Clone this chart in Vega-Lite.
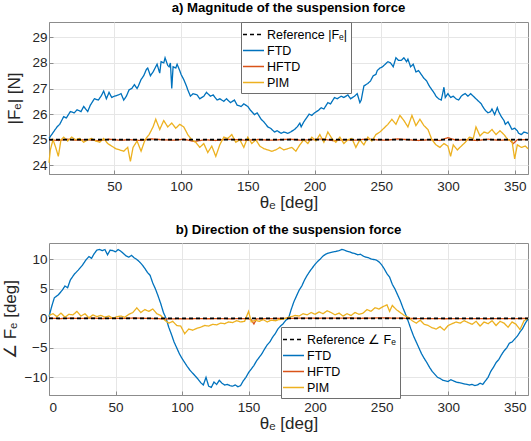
{
"$schema": "https://vega.github.io/schema/vega-lite/v6.json",
"padding": {"left": 0, "top": 0, "right": 0, "bottom": 0},
"background": "white",
"spacing": 11,
"datasets": {
"top": [
{"t":1,"s":"FTD","v":25.05},{"t":3,"s":"FTD","v":25.2},{"t":5,"s":"FTD","v":25.35},{"t":7,"s":"FTD","v":25.5},{"t":9,"s":"FTD","v":25.6},{"t":12,"s":"FTD","v":25.9},{"t":14,"s":"FTD","v":25.85},{"t":17,"s":"FTD","v":26.1},{"t":20,"s":"FTD","v":26.05},{"t":22,"s":"FTD","v":26.17},{"t":25,"s":"FTD","v":26.1},{"t":27,"s":"FTD","v":26.3},{"t":30,"s":"FTD","v":26.1},{"t":32,"s":"FTD","v":26.35},{"t":35,"s":"FTD","v":26.6},{"t":38,"s":"FTD","v":26.55},{"t":40,"s":"FTD","v":26.7},{"t":42,"s":"FTD","v":26.9},{"t":44,"s":"FTD","v":26.6},{"t":46,"s":"FTD","v":26.85},{"t":48,"s":"FTD","v":26.65},{"t":50,"s":"FTD","v":26.7},{"t":53,"s":"FTD","v":26.75},{"t":55,"s":"FTD","v":26.8},{"t":57,"s":"FTD","v":26.55},{"t":59,"s":"FTD","v":26.7},{"t":61,"s":"FTD","v":26.95},{"t":63,"s":"FTD","v":27.0},{"t":65,"s":"FTD","v":27.15},{"t":67,"s":"FTD","v":27.0},{"t":68,"s":"FTD","v":27.1},{"t":70,"s":"FTD","v":27.35},{"t":72,"s":"FTD","v":27.5},{"t":74,"s":"FTD","v":27.75},{"t":75,"s":"FTD","v":27.8},{"t":77,"s":"FTD","v":27.5},{"t":79,"s":"FTD","v":27.65},{"t":80,"s":"FTD","v":27.75},{"t":82,"s":"FTD","v":27.95},{"t":84,"s":"FTD","v":27.6},{"t":85,"s":"FTD","v":28.05},{"t":87,"s":"FTD","v":28.0},{"t":88,"s":"FTD","v":28.2},{"t":90,"s":"FTD","v":27.9},{"t":91,"s":"FTD","v":27.85},{"t":92,"s":"FTD","v":28.0},{"t":93,"s":"FTD","v":27.0},{"t":94,"s":"FTD","v":27.85},{"t":96,"s":"FTD","v":27.8},{"t":97,"s":"FTD","v":27.95},{"t":99,"s":"FTD","v":27.7},{"t":100,"s":"FTD","v":27.55},{"t":102,"s":"FTD","v":27.35},{"t":104,"s":"FTD","v":27.1},{"t":105,"s":"FTD","v":26.95},{"t":107,"s":"FTD","v":26.7},{"t":109,"s":"FTD","v":26.8},{"t":112,"s":"FTD","v":26.75},{"t":114,"s":"FTD","v":26.6},{"t":117,"s":"FTD","v":26.7},{"t":119,"s":"FTD","v":26.85},{"t":122,"s":"FTD","v":26.7},{"t":124,"s":"FTD","v":26.75},{"t":127,"s":"FTD","v":26.55},{"t":129,"s":"FTD","v":26.6},{"t":132,"s":"FTD","v":26.5},{"t":134,"s":"FTD","v":26.6},{"t":137,"s":"FTD","v":26.45},{"t":140,"s":"FTD","v":26.55},{"t":142,"s":"FTD","v":26.35},{"t":145,"s":"FTD","v":26.3},{"t":147,"s":"FTD","v":26.4},{"t":150,"s":"FTD","v":26.3},{"t":152,"s":"FTD","v":26.15},{"t":155,"s":"FTD","v":25.98},{"t":157,"s":"FTD","v":26.05},{"t":160,"s":"FTD","v":25.8},{"t":162,"s":"FTD","v":25.7},{"t":165,"s":"FTD","v":25.5},{"t":167,"s":"FTD","v":25.45},{"t":170,"s":"FTD","v":25.3},{"t":172,"s":"FTD","v":25.35},{"t":175,"s":"FTD","v":25.25},{"t":177,"s":"FTD","v":25.3},{"t":180,"s":"FTD","v":25.25},{"t":182,"s":"FTD","v":25.3},{"t":185,"s":"FTD","v":25.4},{"t":187,"s":"FTD","v":25.5},{"t":189,"s":"FTD","v":25.65},{"t":190,"s":"FTD","v":25.5},{"t":192,"s":"FTD","v":25.7},{"t":194,"s":"FTD","v":25.85},{"t":196,"s":"FTD","v":26.0},{"t":198,"s":"FTD","v":25.95},{"t":200,"s":"FTD","v":26.05},{"t":203,"s":"FTD","v":26.15},{"t":205,"s":"FTD","v":26.25},{"t":207,"s":"FTD","v":26.2},{"t":210,"s":"FTD","v":26.45},{"t":212,"s":"FTD","v":26.4},{"t":215,"s":"FTD","v":26.65},{"t":217,"s":"FTD","v":26.6},{"t":220,"s":"FTD","v":26.7},{"t":222,"s":"FTD","v":26.65},{"t":225,"s":"FTD","v":26.75},{"t":227,"s":"FTD","v":26.6},{"t":230,"s":"FTD","v":26.7},{"t":232,"s":"FTD","v":26.8},{"t":234,"s":"FTD","v":26.45},{"t":235,"s":"FTD","v":26.55},{"t":237,"s":"FTD","v":27.1},{"t":240,"s":"FTD","v":27.2},{"t":242,"s":"FTD","v":27.3},{"t":244,"s":"FTD","v":27.5},{"t":246,"s":"FTD","v":27.55},{"t":247,"s":"FTD","v":27.7},{"t":249,"s":"FTD","v":27.8},{"t":251,"s":"FTD","v":27.85},{"t":253,"s":"FTD","v":27.95},{"t":255,"s":"FTD","v":28.05},{"t":257,"s":"FTD","v":28.0},{"t":259,"s":"FTD","v":27.85},{"t":261,"s":"FTD","v":28.2},{"t":263,"s":"FTD","v":28.1},{"t":265,"s":"FTD","v":28.1},{"t":267,"s":"FTD","v":28.2},{"t":269,"s":"FTD","v":28.05},{"t":270,"s":"FTD","v":28.15},{"t":272,"s":"FTD","v":27.85},{"t":274,"s":"FTD","v":27.95},{"t":276,"s":"FTD","v":27.65},{"t":278,"s":"FTD","v":27.7},{"t":280,"s":"FTD","v":27.55},{"t":282,"s":"FTD","v":27.4},{"t":284,"s":"FTD","v":27.3},{"t":286,"s":"FTD","v":27.1},{"t":288,"s":"FTD","v":26.95},{"t":290,"s":"FTD","v":26.8},{"t":291,"s":"FTD","v":26.7},{"t":293,"s":"FTD","v":26.6},{"t":295,"s":"FTD","v":26.55},{"t":297,"s":"FTD","v":27.05},{"t":298,"s":"FTD","v":26.65},{"t":300,"s":"FTD","v":26.8},{"t":302,"s":"FTD","v":26.65},{"t":304,"s":"FTD","v":26.7},{"t":306,"s":"FTD","v":26.6},{"t":308,"s":"FTD","v":26.55},{"t":310,"s":"FTD","v":26.7},{"t":311,"s":"FTD","v":26.75},{"t":313,"s":"FTD","v":26.8},{"t":315,"s":"FTD","v":26.7},{"t":317,"s":"FTD","v":26.8},{"t":319,"s":"FTD","v":26.7},{"t":321,"s":"FTD","v":26.6},{"t":323,"s":"FTD","v":26.5},{"t":325,"s":"FTD","v":26.4},{"t":326,"s":"FTD","v":26.3},{"t":328,"s":"FTD","v":26.15},{"t":330,"s":"FTD","v":26.05},{"t":332,"s":"FTD","v":26.1},{"t":333,"s":"FTD","v":26.2},{"t":335,"s":"FTD","v":25.98},{"t":337,"s":"FTD","v":26.25},{"t":338,"s":"FTD","v":26.1},{"t":340,"s":"FTD","v":25.9},{"t":342,"s":"FTD","v":25.75},{"t":343,"s":"FTD","v":25.6},{"t":345,"s":"FTD","v":25.7},{"t":347,"s":"FTD","v":25.5},{"t":348,"s":"FTD","v":25.4},{"t":350,"s":"FTD","v":25.45},{"t":352,"s":"FTD","v":25.35},{"t":353,"s":"FTD","v":25.25},{"t":355,"s":"FTD","v":25.2},{"t":357,"s":"FTD","v":25.3},{"t":360,"s":"FTD","v":25.25},
{"t":1,"s":"HFTD","v":25.0},{"t":8,"s":"HFTD","v":24.97},{"t":15,"s":"HFTD","v":25.02},{"t":22,"s":"HFTD","v":24.98},{"t":30,"s":"HFTD","v":25.0},{"t":38,"s":"HFTD","v":24.96},{"t":46,"s":"HFTD","v":25.02},{"t":54,"s":"HFTD","v":24.98},{"t":62,"s":"HFTD","v":25.0},{"t":70,"s":"HFTD","v":24.97},{"t":78,"s":"HFTD","v":25.03},{"t":86,"s":"HFTD","v":25.0},{"t":94,"s":"HFTD","v":24.98},{"t":102,"s":"HFTD","v":25.02},{"t":110,"s":"HFTD","v":24.93},{"t":118,"s":"HFTD","v":25.0},{"t":126,"s":"HFTD","v":24.97},{"t":134,"s":"HFTD","v":25.02},{"t":142,"s":"HFTD","v":25.0},{"t":150,"s":"HFTD","v":24.98},{"t":158,"s":"HFTD","v":25.01},{"t":166,"s":"HFTD","v":24.98},{"t":174,"s":"HFTD","v":25.0},{"t":182,"s":"HFTD","v":25.02},{"t":190,"s":"HFTD","v":24.98},{"t":198,"s":"HFTD","v":25.0},{"t":206,"s":"HFTD","v":25.03},{"t":214,"s":"HFTD","v":24.96},{"t":222,"s":"HFTD","v":25.0},{"t":230,"s":"HFTD","v":24.98},{"t":238,"s":"HFTD","v":25.02},{"t":246,"s":"HFTD","v":25.0},{"t":254,"s":"HFTD","v":24.98},{"t":262,"s":"HFTD","v":25.03},{"t":270,"s":"HFTD","v":25.0},{"t":278,"s":"HFTD","v":24.97},{"t":286,"s":"HFTD","v":25.0},{"t":294,"s":"HFTD","v":24.97},{"t":300,"s":"HFTD","v":25.08},{"t":306,"s":"HFTD","v":24.98},{"t":314,"s":"HFTD","v":25.0},{"t":322,"s":"HFTD","v":24.97},{"t":330,"s":"HFTD","v":25.02},{"t":338,"s":"HFTD","v":24.98},{"t":346,"s":"HFTD","v":25.0},{"t":349,"s":"HFTD","v":24.85},{"t":352,"s":"HFTD","v":25.0},{"t":360,"s":"HFTD","v":25.0},
{"t":1,"s":"PIM","v":24.1},{"t":2,"s":"PIM","v":24.6},{"t":4,"s":"PIM","v":25.0},{"t":6,"s":"PIM","v":24.7},{"t":8,"s":"PIM","v":24.35},{"t":10,"s":"PIM","v":25.0},{"t":12,"s":"PIM","v":25.1},{"t":15,"s":"PIM","v":24.95},{"t":18,"s":"PIM","v":25.1},{"t":21,"s":"PIM","v":25.0},{"t":24,"s":"PIM","v":25.05},{"t":27,"s":"PIM","v":24.9},{"t":30,"s":"PIM","v":25.0},{"t":33,"s":"PIM","v":25.05},{"t":36,"s":"PIM","v":24.95},{"t":39,"s":"PIM","v":24.9},{"t":42,"s":"PIM","v":25.05},{"t":45,"s":"PIM","v":24.85},{"t":48,"s":"PIM","v":24.75},{"t":51,"s":"PIM","v":24.65},{"t":54,"s":"PIM","v":24.6},{"t":57,"s":"PIM","v":24.55},{"t":60,"s":"PIM","v":24.7},{"t":62,"s":"PIM","v":24.15},{"t":64,"s":"PIM","v":24.7},{"t":67,"s":"PIM","v":24.95},{"t":70,"s":"PIM","v":24.55},{"t":73,"s":"PIM","v":25.0},{"t":76,"s":"PIM","v":25.2},{"t":79,"s":"PIM","v":25.5},{"t":81,"s":"PIM","v":25.8},{"t":84,"s":"PIM","v":25.4},{"t":87,"s":"PIM","v":25.75},{"t":90,"s":"PIM","v":25.5},{"t":93,"s":"PIM","v":25.65},{"t":96,"s":"PIM","v":25.45},{"t":99,"s":"PIM","v":25.6},{"t":102,"s":"PIM","v":25.5},{"t":105,"s":"PIM","v":25.2},{"t":108,"s":"PIM","v":25.0},{"t":111,"s":"PIM","v":24.9},{"t":114,"s":"PIM","v":24.7},{"t":117,"s":"PIM","v":24.85},{"t":120,"s":"PIM","v":24.5},{"t":123,"s":"PIM","v":24.75},{"t":126,"s":"PIM","v":24.35},{"t":129,"s":"PIM","v":24.8},{"t":132,"s":"PIM","v":25.1},{"t":135,"s":"PIM","v":25.05},{"t":138,"s":"PIM","v":25.2},{"t":141,"s":"PIM","v":24.9},{"t":144,"s":"PIM","v":25.0},{"t":147,"s":"PIM","v":24.7},{"t":150,"s":"PIM","v":25.1},{"t":153,"s":"PIM","v":24.85},{"t":156,"s":"PIM","v":25.0},{"t":159,"s":"PIM","v":24.75},{"t":162,"s":"PIM","v":24.65},{"t":165,"s":"PIM","v":24.6},{"t":168,"s":"PIM","v":24.55},{"t":171,"s":"PIM","v":24.6},{"t":174,"s":"PIM","v":24.7},{"t":177,"s":"PIM","v":24.6},{"t":180,"s":"PIM","v":24.65},{"t":183,"s":"PIM","v":24.7},{"t":186,"s":"PIM","v":24.55},{"t":189,"s":"PIM","v":24.8},{"t":192,"s":"PIM","v":25.0},{"t":195,"s":"PIM","v":24.85},{"t":198,"s":"PIM","v":25.1},{"t":201,"s":"PIM","v":24.95},{"t":204,"s":"PIM","v":25.2},{"t":207,"s":"PIM","v":24.9},{"t":210,"s":"PIM","v":25.3},{"t":213,"s":"PIM","v":25.05},{"t":216,"s":"PIM","v":24.9},{"t":219,"s":"PIM","v":25.1},{"t":222,"s":"PIM","v":24.85},{"t":225,"s":"PIM","v":25.0},{"t":228,"s":"PIM","v":25.05},{"t":231,"s":"PIM","v":24.7},{"t":234,"s":"PIM","v":25.0},{"t":237,"s":"PIM","v":24.8},{"t":240,"s":"PIM","v":25.1},{"t":243,"s":"PIM","v":24.95},{"t":246,"s":"PIM","v":25.2},{"t":249,"s":"PIM","v":25.3},{"t":252,"s":"PIM","v":25.45},{"t":255,"s":"PIM","v":25.6},{"t":258,"s":"PIM","v":25.8},{"t":261,"s":"PIM","v":25.6},{"t":264,"s":"PIM","v":25.95},{"t":267,"s":"PIM","v":25.75},{"t":270,"s":"PIM","v":25.5},{"t":273,"s":"PIM","v":25.95},{"t":276,"s":"PIM","v":25.55},{"t":279,"s":"PIM","v":25.8},{"t":282,"s":"PIM","v":25.55},{"t":285,"s":"PIM","v":25.4},{"t":288,"s":"PIM","v":25.0},{"t":291,"s":"PIM","v":24.8},{"t":294,"s":"PIM","v":24.7},{"t":297,"s":"PIM","v":24.85},{"t":300,"s":"PIM","v":24.75},{"t":302,"s":"PIM","v":24.35},{"t":304,"s":"PIM","v":24.8},{"t":307,"s":"PIM","v":24.6},{"t":310,"s":"PIM","v":24.75},{"t":313,"s":"PIM","v":24.9},{"t":316,"s":"PIM","v":25.1},{"t":319,"s":"PIM","v":25.05},{"t":321,"s":"PIM","v":25.5},{"t":324,"s":"PIM","v":25.15},{"t":327,"s":"PIM","v":25.3},{"t":330,"s":"PIM","v":25.25},{"t":333,"s":"PIM","v":25.4},{"t":336,"s":"PIM","v":25.2},{"t":339,"s":"PIM","v":25.35},{"t":342,"s":"PIM","v":25.2},{"t":345,"s":"PIM","v":25.0},{"t":348,"s":"PIM","v":24.95},{"t":350,"s":"PIM","v":24.25},{"t":352,"s":"PIM","v":24.8},{"t":355,"s":"PIM","v":24.7},{"t":358,"s":"PIM","v":24.75},{"t":360,"s":"PIM","v":24.65},
{"t":1,"s":"Reference |Fₑ|","v":25},{"t":360,"s":"Reference |Fₑ|","v":25}
],
"bot": [
{"t":0,"s":"FTD","v":0.3},{"t":2,"s":"FTD","v":2.0},{"t":4,"s":"FTD","v":3.5},{"t":7,"s":"FTD","v":4.0},{"t":10,"s":"FTD","v":4.8},{"t":12,"s":"FTD","v":5.5},{"t":14,"s":"FTD","v":5.2},{"t":16,"s":"FTD","v":6.5},{"t":19,"s":"FTD","v":7.5},{"t":22,"s":"FTD","v":8.2},{"t":25,"s":"FTD","v":9.0},{"t":28,"s":"FTD","v":10.0},{"t":30,"s":"FTD","v":10.5},{"t":32,"s":"FTD","v":10.2},{"t":34,"s":"FTD","v":11.0},{"t":36,"s":"FTD","v":11.6},{"t":38,"s":"FTD","v":11.7},{"t":40,"s":"FTD","v":11.5},{"t":42,"s":"FTD","v":11.7},{"t":44,"s":"FTD","v":10.8},{"t":46,"s":"FTD","v":11.6},{"t":48,"s":"FTD","v":11.5},{"t":50,"s":"FTD","v":11.3},{"t":52,"s":"FTD","v":11.7},{"t":54,"s":"FTD","v":11.4},{"t":56,"s":"FTD","v":11.0},{"t":58,"s":"FTD","v":10.6},{"t":60,"s":"FTD","v":10.4},{"t":62,"s":"FTD","v":10.7},{"t":64,"s":"FTD","v":10.3},{"t":66,"s":"FTD","v":10.0},{"t":68,"s":"FTD","v":9.6},{"t":70,"s":"FTD","v":9.1},{"t":72,"s":"FTD","v":8.5},{"t":74,"s":"FTD","v":7.8},{"t":76,"s":"FTD","v":7.3},{"t":78,"s":"FTD","v":6.0},{"t":80,"s":"FTD","v":5.0},{"t":82,"s":"FTD","v":3.8},{"t":84,"s":"FTD","v":2.5},{"t":86,"s":"FTD","v":1.0},{"t":88,"s":"FTD","v":0.0},{"t":90,"s":"FTD","v":-1.5},{"t":92,"s":"FTD","v":-2.7},{"t":94,"s":"FTD","v":-4.0},{"t":96,"s":"FTD","v":-5.0},{"t":98,"s":"FTD","v":-6.0},{"t":100,"s":"FTD","v":-6.8},{"t":102,"s":"FTD","v":-7.5},{"t":104,"s":"FTD","v":-8.2},{"t":106,"s":"FTD","v":-8.8},{"t":108,"s":"FTD","v":-9.3},{"t":110,"s":"FTD","v":-9.8},{"t":112,"s":"FTD","v":-10.3},{"t":114,"s":"FTD","v":-10.9},{"t":116,"s":"FTD","v":-11.3},{"t":118,"s":"FTD","v":-10.0},{"t":120,"s":"FTD","v":-11.5},{"t":122,"s":"FTD","v":-11.7},{"t":124,"s":"FTD","v":-10.8},{"t":126,"s":"FTD","v":-11.2},{"t":128,"s":"FTD","v":-10.5},{"t":130,"s":"FTD","v":-11.0},{"t":132,"s":"FTD","v":-11.3},{"t":134,"s":"FTD","v":-11.2},{"t":136,"s":"FTD","v":-11.4},{"t":138,"s":"FTD","v":-11.5},{"t":140,"s":"FTD","v":-11.3},{"t":142,"s":"FTD","v":-11.6},{"t":144,"s":"FTD","v":-11.4},{"t":146,"s":"FTD","v":-10.6},{"t":148,"s":"FTD","v":-10.0},{"t":150,"s":"FTD","v":-9.2},{"t":152,"s":"FTD","v":-8.6},{"t":154,"s":"FTD","v":-8.0},{"t":156,"s":"FTD","v":-7.2},{"t":158,"s":"FTD","v":-6.6},{"t":160,"s":"FTD","v":-6.0},{"t":162,"s":"FTD","v":-5.2},{"t":164,"s":"FTD","v":-4.5},{"t":166,"s":"FTD","v":-4.0},{"t":168,"s":"FTD","v":-3.2},{"t":170,"s":"FTD","v":-2.6},{"t":172,"s":"FTD","v":-1.8},{"t":174,"s":"FTD","v":-1.3},{"t":176,"s":"FTD","v":-0.9},{"t":178,"s":"FTD","v":-0.3},{"t":180,"s":"FTD","v":0.0},{"t":182,"s":"FTD","v":1.5},{"t":184,"s":"FTD","v":2.8},{"t":186,"s":"FTD","v":3.8},{"t":188,"s":"FTD","v":4.8},{"t":190,"s":"FTD","v":5.5},{"t":192,"s":"FTD","v":6.5},{"t":194,"s":"FTD","v":7.3},{"t":196,"s":"FTD","v":8.0},{"t":198,"s":"FTD","v":8.6},{"t":200,"s":"FTD","v":9.2},{"t":202,"s":"FTD","v":9.7},{"t":204,"s":"FTD","v":10.1},{"t":206,"s":"FTD","v":10.6},{"t":208,"s":"FTD","v":10.9},{"t":210,"s":"FTD","v":11.1},{"t":212,"s":"FTD","v":11.2},{"t":214,"s":"FTD","v":11.3},{"t":216,"s":"FTD","v":11.4},{"t":218,"s":"FTD","v":11.5},{"t":220,"s":"FTD","v":11.7},{"t":222,"s":"FTD","v":11.6},{"t":224,"s":"FTD","v":11.4},{"t":226,"s":"FTD","v":11.3},{"t":228,"s":"FTD","v":11.1},{"t":230,"s":"FTD","v":11.0},{"t":232,"s":"FTD","v":10.8},{"t":234,"s":"FTD","v":10.9},{"t":236,"s":"FTD","v":10.6},{"t":238,"s":"FTD","v":10.4},{"t":240,"s":"FTD","v":10.3},{"t":242,"s":"FTD","v":10.1},{"t":244,"s":"FTD","v":10.0},{"t":246,"s":"FTD","v":9.9},{"t":248,"s":"FTD","v":9.6},{"t":250,"s":"FTD","v":9.1},{"t":252,"s":"FTD","v":8.4},{"t":254,"s":"FTD","v":7.6},{"t":256,"s":"FTD","v":7.0},{"t":258,"s":"FTD","v":5.8},{"t":260,"s":"FTD","v":5.0},{"t":262,"s":"FTD","v":4.0},{"t":264,"s":"FTD","v":3.0},{"t":266,"s":"FTD","v":1.8},{"t":268,"s":"FTD","v":0.7},{"t":270,"s":"FTD","v":-0.5},{"t":272,"s":"FTD","v":-1.8},{"t":274,"s":"FTD","v":-3.0},{"t":276,"s":"FTD","v":-4.0},{"t":278,"s":"FTD","v":-5.0},{"t":280,"s":"FTD","v":-6.0},{"t":282,"s":"FTD","v":-6.8},{"t":284,"s":"FTD","v":-7.5},{"t":286,"s":"FTD","v":-8.3},{"t":288,"s":"FTD","v":-9.0},{"t":290,"s":"FTD","v":-9.5},{"t":292,"s":"FTD","v":-10.0},{"t":294,"s":"FTD","v":-10.2},{"t":296,"s":"FTD","v":-10.5},{"t":298,"s":"FTD","v":-10.6},{"t":300,"s":"FTD","v":-10.7},{"t":302,"s":"FTD","v":-10.4},{"t":304,"s":"FTD","v":-10.6},{"t":306,"s":"FTD","v":-10.8},{"t":308,"s":"FTD","v":-10.9},{"t":310,"s":"FTD","v":-11.0},{"t":312,"s":"FTD","v":-11.1},{"t":314,"s":"FTD","v":-11.2},{"t":316,"s":"FTD","v":-11.3},{"t":318,"s":"FTD","v":-11.2},{"t":320,"s":"FTD","v":-11.4},{"t":322,"s":"FTD","v":-11.3},{"t":324,"s":"FTD","v":-11.0},{"t":326,"s":"FTD","v":-11.2},{"t":328,"s":"FTD","v":-10.6},{"t":330,"s":"FTD","v":-10.0},{"t":332,"s":"FTD","v":-9.0},{"t":334,"s":"FTD","v":-8.3},{"t":336,"s":"FTD","v":-7.5},{"t":338,"s":"FTD","v":-7.0},{"t":340,"s":"FTD","v":-6.2},{"t":342,"s":"FTD","v":-5.5},{"t":344,"s":"FTD","v":-5.0},{"t":346,"s":"FTD","v":-4.2},{"t":348,"s":"FTD","v":-4.0},{"t":350,"s":"FTD","v":-3.5},{"t":352,"s":"FTD","v":-3.0},{"t":354,"s":"FTD","v":-2.3},{"t":356,"s":"FTD","v":-1.7},{"t":358,"s":"FTD","v":-0.8},{"t":360,"s":"FTD","v":-0.1},
{"t":0,"s":"HFTD","v":0.05},{"t":8,"s":"HFTD","v":-0.03},{"t":16,"s":"HFTD","v":0.04},{"t":24,"s":"HFTD","v":0.0},{"t":32,"s":"HFTD","v":0.06},{"t":40,"s":"HFTD","v":-0.02},{"t":48,"s":"HFTD","v":0.03},{"t":56,"s":"HFTD","v":0.0},{"t":64,"s":"HFTD","v":0.08},{"t":72,"s":"HFTD","v":0.02},{"t":80,"s":"HFTD","v":-0.03},{"t":88,"s":"HFTD","v":-0.1},{"t":96,"s":"HFTD","v":-0.05},{"t":104,"s":"HFTD","v":-0.08},{"t":112,"s":"HFTD","v":-0.03},{"t":120,"s":"HFTD","v":-0.06},{"t":128,"s":"HFTD","v":-0.02},{"t":136,"s":"HFTD","v":-0.07},{"t":144,"s":"HFTD","v":-0.03},{"t":150,"s":"HFTD","v":-0.05},{"t":152,"s":"HFTD","v":-0.2},{"t":154,"s":"HFTD","v":-0.95},{"t":156,"s":"HFTD","v":-0.1},{"t":162,"s":"HFTD","v":-0.04},{"t":170,"s":"HFTD","v":-0.02},{"t":178,"s":"HFTD","v":0.0},{"t":186,"s":"HFTD","v":0.03},{"t":194,"s":"HFTD","v":0.05},{"t":202,"s":"HFTD","v":0.02},{"t":210,"s":"HFTD","v":0.06},{"t":218,"s":"HFTD","v":0.03},{"t":226,"s":"HFTD","v":0.08},{"t":234,"s":"HFTD","v":0.02},{"t":242,"s":"HFTD","v":0.05},{"t":250,"s":"HFTD","v":0.1},{"t":258,"s":"HFTD","v":0.06},{"t":266,"s":"HFTD","v":0.03},{"t":274,"s":"HFTD","v":-0.02},{"t":282,"s":"HFTD","v":-0.05},{"t":290,"s":"HFTD","v":-0.03},{"t":298,"s":"HFTD","v":-0.06},{"t":306,"s":"HFTD","v":-0.02},{"t":314,"s":"HFTD","v":-0.05},{"t":322,"s":"HFTD","v":-0.03},{"t":330,"s":"HFTD","v":-0.06},{"t":338,"s":"HFTD","v":-0.02},{"t":346,"s":"HFTD","v":-0.04},{"t":354,"s":"HFTD","v":-0.02},{"t":360,"s":"HFTD","v":0.0},
{"t":0,"s":"PIM","v":0.5},{"t":3,"s":"PIM","v":0.8},{"t":6,"s":"PIM","v":0.3},{"t":9,"s":"PIM","v":0.9},{"t":12,"s":"PIM","v":0.2},{"t":15,"s":"PIM","v":0.7},{"t":18,"s":"PIM","v":0.6},{"t":21,"s":"PIM","v":1.2},{"t":24,"s":"PIM","v":0.4},{"t":27,"s":"PIM","v":0.8},{"t":30,"s":"PIM","v":0.1},{"t":33,"s":"PIM","v":0.6},{"t":36,"s":"PIM","v":0.3},{"t":39,"s":"PIM","v":0.5},{"t":42,"s":"PIM","v":0.2},{"t":45,"s":"PIM","v":0.4},{"t":48,"s":"PIM","v":0.0},{"t":51,"s":"PIM","v":0.3},{"t":54,"s":"PIM","v":0.4},{"t":57,"s":"PIM","v":0.2},{"t":60,"s":"PIM","v":0.7},{"t":63,"s":"PIM","v":1.0},{"t":66,"s":"PIM","v":1.8},{"t":69,"s":"PIM","v":1.0},{"t":72,"s":"PIM","v":1.5},{"t":75,"s":"PIM","v":1.2},{"t":78,"s":"PIM","v":1.6},{"t":81,"s":"PIM","v":0.8},{"t":84,"s":"PIM","v":0.5},{"t":87,"s":"PIM","v":-0.3},{"t":90,"s":"PIM","v":-0.8},{"t":93,"s":"PIM","v":-0.5},{"t":96,"s":"PIM","v":-1.2},{"t":99,"s":"PIM","v":-1.3},{"t":102,"s":"PIM","v":-2.6},{"t":105,"s":"PIM","v":-1.8},{"t":108,"s":"PIM","v":-2.0},{"t":111,"s":"PIM","v":-1.7},{"t":114,"s":"PIM","v":-1.5},{"t":117,"s":"PIM","v":-1.2},{"t":120,"s":"PIM","v":-1.3},{"t":123,"s":"PIM","v":-1.0},{"t":126,"s":"PIM","v":-1.1},{"t":129,"s":"PIM","v":-0.8},{"t":132,"s":"PIM","v":-0.9},{"t":135,"s":"PIM","v":-0.6},{"t":138,"s":"PIM","v":-0.7},{"t":141,"s":"PIM","v":-0.4},{"t":144,"s":"PIM","v":-0.6},{"t":147,"s":"PIM","v":-0.5},{"t":150,"s":"PIM","v":1.2},{"t":152,"s":"PIM","v":-0.6},{"t":155,"s":"PIM","v":-0.3},{"t":158,"s":"PIM","v":-0.5},{"t":161,"s":"PIM","v":-0.2},{"t":164,"s":"PIM","v":-0.6},{"t":167,"s":"PIM","v":-0.3},{"t":170,"s":"PIM","v":-0.4},{"t":173,"s":"PIM","v":-0.2},{"t":176,"s":"PIM","v":-0.1},{"t":179,"s":"PIM","v":0.1},{"t":182,"s":"PIM","v":0.3},{"t":185,"s":"PIM","v":0.5},{"t":188,"s":"PIM","v":0.4},{"t":191,"s":"PIM","v":0.8},{"t":194,"s":"PIM","v":0.6},{"t":197,"s":"PIM","v":1.0},{"t":200,"s":"PIM","v":0.7},{"t":203,"s":"PIM","v":1.1},{"t":206,"s":"PIM","v":0.8},{"t":209,"s":"PIM","v":1.3},{"t":212,"s":"PIM","v":1.0},{"t":215,"s":"PIM","v":0.6},{"t":218,"s":"PIM","v":0.9},{"t":221,"s":"PIM","v":0.4},{"t":224,"s":"PIM","v":0.8},{"t":227,"s":"PIM","v":0.5},{"t":230,"s":"PIM","v":1.0},{"t":233,"s":"PIM","v":0.7},{"t":236,"s":"PIM","v":0.9},{"t":239,"s":"PIM","v":1.5},{"t":242,"s":"PIM","v":1.2},{"t":245,"s":"PIM","v":1.8},{"t":248,"s":"PIM","v":1.6},{"t":251,"s":"PIM","v":2.0},{"t":254,"s":"PIM","v":2.3},{"t":256,"s":"PIM","v":1.2},{"t":258,"s":"PIM","v":2.2},{"t":261,"s":"PIM","v":1.5},{"t":264,"s":"PIM","v":1.0},{"t":267,"s":"PIM","v":0.5},{"t":270,"s":"PIM","v":0.2},{"t":273,"s":"PIM","v":-0.4},{"t":276,"s":"PIM","v":-0.8},{"t":279,"s":"PIM","v":-0.3},{"t":282,"s":"PIM","v":-1.0},{"t":285,"s":"PIM","v":-1.2},{"t":288,"s":"PIM","v":-1.6},{"t":291,"s":"PIM","v":-1.8},{"t":294,"s":"PIM","v":-1.4},{"t":297,"s":"PIM","v":-2.0},{"t":300,"s":"PIM","v":-1.2},{"t":303,"s":"PIM","v":-0.9},{"t":306,"s":"PIM","v":-0.6},{"t":309,"s":"PIM","v":-0.8},{"t":312,"s":"PIM","v":-0.4},{"t":315,"s":"PIM","v":-0.7},{"t":318,"s":"PIM","v":-1.0},{"t":321,"s":"PIM","v":-0.5},{"t":324,"s":"PIM","v":-1.3},{"t":327,"s":"PIM","v":-0.6},{"t":330,"s":"PIM","v":-0.9},{"t":333,"s":"PIM","v":-0.4},{"t":336,"s":"PIM","v":-1.2},{"t":339,"s":"PIM","v":-0.5},{"t":342,"s":"PIM","v":-0.8},{"t":345,"s":"PIM","v":-1.5},{"t":348,"s":"PIM","v":-0.6},{"t":351,"s":"PIM","v":-1.0},{"t":354,"s":"PIM","v":-1.9},{"t":357,"s":"PIM","v":-0.4},{"t":360,"s":"PIM","v":0.0},
{"t":0,"s":"Reference ∠ Fₑ","v":0},{"t":360,"s":"Reference ∠ Fₑ","v":0}
]
},
"vconcat": [
{
"width": 479, "height": 152,
"title": {"text": "a) Magnitude of the suspension force"},
"data": {"name": "top"},
"encoding": {
"x": {"field": "t", "type": "quantitative", "scale": {"domain": [1, 360], "nice": false, "zero": false}, "axis": {"title": "θₑ [deg]", "values": [50,100,150,200,250,300,350]}},
"y": {"field": "v", "type": "quantitative", "scale": {"domain": [23.66, 29.6], "nice": false, "zero": false}, "axis": {"title": "|Fₑ| [N]", "values": [24,25,26,27,28,29], "titlePadding": 8}},
"color": {"field": "s", "type": "nominal", "scale": {"domain": ["Reference |Fₑ|","FTD","HFTD","PIM"], "range": ["#000000","#0072BD","#D95319","#EDB120"]}, "legend": {"title": null, "orient": "none", "legendX": 192, "legendY": 0}},
"strokeDash": {"field": "s", "type": "nominal", "scale": {"domain": ["Reference |Fₑ|","FTD","HFTD","PIM"], "range": [[4,3],[1,0],[1,0],[1,0]]}, "legend": {"title": null, "orient": "none", "legendX": 192, "legendY": 0}}
},
"layer": [
{"transform": [{"filter": "datum.s != 'Reference |Fₑ|'"}], "mark": {"type": "line", "strokeWidth": 1.3}},
{"transform": [{"filter": "datum.s == 'Reference |Fₑ|'"}], "mark": {"type": "line", "strokeWidth": 1.7}}
]
},
{
"width": 479, "height": 152,
"title": {"text": "b) Direction of the suspension force"},
"data": {"name": "bot"},
"encoding": {
"x": {"field": "t", "type": "quantitative", "scale": {"domain": [0, 360], "nice": false, "zero": false}, "axis": {"title": "θₑ [deg]", "values": [0,50,100,150,200,250,300,350]}},
"y": {"field": "v", "type": "quantitative", "scale": {"domain": [-13, 12.8], "nice": false, "zero": false}, "axis": {"title": "∠ Fₑ [deg]", "values": [-10,-5,0,5,10], "titlePadding": 5}},
"color": {"field": "s", "type": "nominal", "scale": {"domain": ["Reference ∠ Fₑ","FTD","HFTD","PIM"], "range": ["#000000","#0072BD","#D95319","#EDB120"]}, "legend": {"title": null, "orient": "none", "legendX": 232, "legendY": 84}},
"strokeDash": {"field": "s", "type": "nominal", "scale": {"domain": ["Reference ∠ Fₑ","FTD","HFTD","PIM"], "range": [[4,3],[1,0],[1,0],[1,0]]}, "legend": {"title": null, "orient": "none", "legendX": 232, "legendY": 84}}
},
"layer": [
{"transform": [{"filter": "datum.s != 'Reference ∠ Fₑ'"}], "mark": {"type": "line", "strokeWidth": 1.3}},
{"transform": [{"filter": "datum.s == 'Reference ∠ Fₑ'"}], "mark": {"type": "line", "strokeWidth": 1.7}}
]
}
],
"resolve": {"scale": {"color": "independent", "strokeDash": "independent", "x": "independent", "y": "independent"}, "legend": {"color": "independent", "strokeDash": "independent"}},
"config": {
"font": "Liberation Sans",
"view": {"stroke": "#8c8c8c", "strokeWidth": 1},
"axis": {"labelFontSize": 13.5, "labelColor": "#262626", "titleFontSize": 17, "titleFontWeight": "normal", "titleColor": "#262626", "gridColor": "#e6e6e6", "domainColor": "#8c8c8c", "tickColor": "#8c8c8c", "tickSize": -4},
"axisX": {"titlePadding": 2, "labelPadding": 9},
"axisY": {"labelPadding": 6},
"title": {"fontSize": 13.2, "fontWeight": "bold", "color": "#000000", "offset": 6},
"legend": {"symbolType": "M-1.4,0L1.4,0", "symbolSize": 225, "symbolStrokeWidth": 1.6, "symbolFillColor": "transparent", "labelFontSize": 12.5, "labelColor": "#000000", "fillColor": "white", "strokeColor": "#6e6e6e", "padding": 4, "rowPadding": 1, "labelOffset": 5}
}
}
